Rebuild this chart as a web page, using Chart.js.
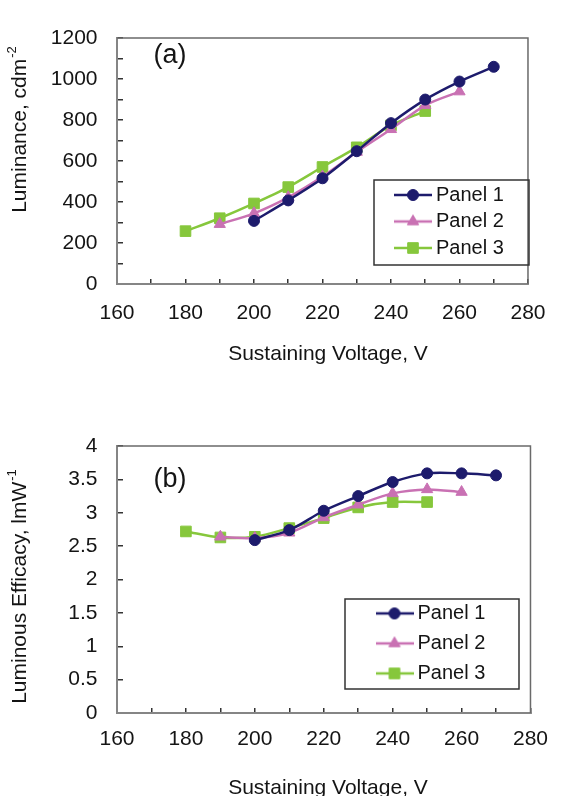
<!DOCTYPE html>
<html><head><meta charset="utf-8">
<script src="https://cdn.jsdelivr.net/npm/chart.js@4.4.1/dist/chart.umd.min.js"></script>
<style>
html,body{margin:0;padding:0;background:#fff;}
#wrapA{position:absolute;left:0;top:0;width:567px;height:380px;}
#wrapB{position:absolute;left:0;top:380px;width:567px;height:416px;}
</style></head><body>
<div id="wrapA"><canvas id="chartA"></canvas></div>
<div id="wrapB"><canvas id="chartB"></canvas></div>
<script>
// ---- data ----
const seriesNames = ['Panel 1', 'Panel 2', 'Panel 3'];
const voltage1 = [200, 210, 220, 230, 240, 250, 260, 270];
const voltage2 = [190, 200, 210, 220, 230, 240, 250, 260];
const voltage3 = [180, 190, 200, 210, 220, 230, 240, 250];
const luminance1 = [308, 408, 516, 648, 785, 900, 988, 1060];
const luminance2 = [292, 345, 423, 524, 644, 755, 872, 939];
const luminance3 = [258, 321, 393, 473, 571, 667, 774, 844];
const efficacy1 = [2.59, 2.74, 3.03, 3.25, 3.46, 3.59, 3.59, 3.56];
const efficacy2 = [2.64, 2.62, 2.70, 2.93, 3.12, 3.29, 3.35, 3.31];
const efficacy3 = [2.72, 2.63, 2.64, 2.77, 2.92, 3.08, 3.16, 3.16];
const xTickLabels = [160, 180, 200, 220, 240, 260, 280];
const yTickLabelsA = [0, 200, 400, 600, 800, 1000, 1200];
const yTickLabelsB = [0, 0.5, 1, 1.5, 2, 2.5, 3, 3.5, 4];

// ---- styles ----
const FONT = '"Liberation Sans", Arial, sans-serif';
const colors = ['#1d1b6c', '#c971b3', '#86c73c'];
const pointStyles = ['circle', 'triangle', 'rect'];
const pointRadii = [5.5, 6.5, 7.5];

function drawMarker(g, style, r, x, y) {
  g.beginPath();
  if (style === 'circle') {
    g.arc(x, y, r, 0, Math.PI * 2);
  } else if (style === 'triangle') {
    let a = 0;
    g.moveTo(x + Math.sin(a) * r, y - Math.cos(a) * r);
    a += 2 * Math.PI / 3; g.lineTo(x + Math.sin(a) * r, y - Math.cos(a) * r);
    a += 2 * Math.PI / 3; g.lineTo(x + Math.sin(a) * r, y - Math.cos(a) * r);
    g.closePath();
  } else {
    const s = r * Math.SQRT1_2;
    g.rect(x - s, y - s, 2 * s, 2 * s);
  }
  g.fill(); g.stroke();
}
function makeIcon(i) {
  const c = document.createElement('canvas');
  c.width = 38; c.height = 18;
  const g = c.getContext('2d');
  g.strokeStyle = colors[i]; g.fillStyle = colors[i];
  g.lineWidth = 2.5;
  g.beginPath(); g.moveTo(0, 9); g.lineTo(38, 9); g.stroke();
  g.lineWidth = 1;
  drawMarker(g, pointStyles[i], pointRadii[i], 19, 9);
  return c;
}
const icons = [0, 1, 2].map(makeIcon);

function buildDatasets(xs, ys) {
  return ys.map((vals, i) => ({
    label: seriesNames[i],
    data: vals.map((v, k) => ({x: xs[i][k], y: v})),
    borderColor: colors[i],
    backgroundColor: colors[i],
    borderWidth: 2.5,
    pointStyle: pointStyles[i],
    pointRadius: pointRadii[i],
    pointBorderWidth: 1,
    pointBackgroundColor: colors[i],
    pointBorderColor: colors[i],
    tension: 0.3,
    fill: false
  }));
}

const decor = {
  id: 'decor',
  afterLayout(chart, args, o) {
    const lg = chart.legend;
    if (!lg) return;
    lg.left = o.legendLeft; lg.top = o.legendTop;
    lg.right = lg.left + 220; lg.bottom = lg.top + 130;
  },
  afterDraw(chart, args, o) {
    const ctx = chart.ctx, a = chart.chartArea;
    ctx.save();
    ctx.strokeStyle = '#6a6a6a'; ctx.lineWidth = 1.5;
    ctx.beginPath();
    ctx.moveTo(a.left, a.top); ctx.lineTo(a.right, a.top); ctx.lineTo(a.right, a.bottom);
    ctx.stroke();
    ctx.strokeStyle = '#333'; ctx.lineWidth = 1.5;
    ctx.strokeRect(o.box[0], o.box[1], o.box[2], o.box[3]);
    ctx.fillStyle = '#141414';
    ctx.textAlign = 'center'; ctx.textBaseline = 'middle';
    ctx.font = '27px ' + FONT;
    ctx.fillText(o.tag, o.tagPos[0], o.tagPos[1]);
    ctx.font = '21px ' + FONT;
    ctx.fillText(o.xTitle, o.xTitlePos[0], o.xTitlePos[1]);
    ctx.translate(o.yTitlePos[0], o.yTitlePos[1]);
    ctx.rotate(-Math.PI / 2);
    const mainW = ctx.measureText(o.yTitle).width;
    ctx.font = '13px ' + FONT;
    const supW = ctx.measureText(o.yTitleSup).width;
    const start = -(mainW + supW) / 2;
    ctx.textAlign = 'left';
    ctx.font = '21px ' + FONT;
    ctx.fillText(o.yTitle, start, 0);
    ctx.font = '13px ' + FONT;
    ctx.fillText(o.yTitleSup, start + mainW + 1, -8);
    ctx.restore();
  }
};

function makeChart(id, cfg) {
  return new Chart(document.getElementById(id), {
    type: 'line',
    data: {datasets: cfg.datasets},
    plugins: [decor],
    options: {
      responsive: true,
      maintainAspectRatio: false,
      animation: false,
      events: [],
      layout: {padding: cfg.padding},
      scales: {
        x: {
          type: 'linear', min: 160, max: 280,
          afterFit: s => { s.height = cfg.xHeight; },
          border: {display: true, color: '#858585', width: 2},
          grid: {drawOnChartArea: false, drawTicks: true, tickLength: -5, color: '#333', lineWidth: 1.5},
          ticks: {
            stepSize: 10, autoSkip: false, maxRotation: 0, padding: cfg.xPad,
            color: '#141414', font: {family: FONT, size: 21},
            callback: v => xTickLabels.includes(v) ? String(v) : ''
          }
        },
        y: {
          type: 'linear', min: cfg.yMin, max: cfg.yMax,
          afterFit: s => { s.width = 117; },
          border: {display: true, color: '#858585', width: 2},
          grid: {drawOnChartArea: false, drawTicks: true, tickLength: -6, color: '#333', lineWidth: 1.5},
          ticks: {
            stepSize: cfg.yStep, autoSkip: false, padding: 25.5,
            color: '#141414', font: {family: FONT, size: 21},
            callback: v => cfg.yLabels.some(t => Math.abs(t - v) < 1e-9) ? String(v) : ''
          }
        }
      },
      plugins: {
        tooltip: {enabled: false},
        legend: {
          position: 'chartArea',
          align: 'start',
          labels: {
            usePointStyle: true,
            pointStyleWidth: 26,
            boxHeight: 18,
            padding: cfg.legendPad,
            color: '#141414',
            font: {family: FONT, size: 20},
            generateLabels: chart => Chart.defaults.plugins.legend.labels.generateLabels(chart)
              .map((it, i) => Object.assign(it, {pointStyle: icons[i], fontColor: '#141414'}))
          }
        },
        decor: cfg.decor
      }
    }
  });
}

makeChart('chartA', {
  datasets: buildDatasets([voltage1, voltage2, voltage3], [luminance1, luminance2, luminance3]),
  padding: {top: 19, right: 20, bottom: 0, left: 0},
  xHeight: 96, xPad: 21.5,
  yMin: 0, yMax: 1200, yStep: 100, yLabels: yTickLabelsA,
  legendPad: 6.5,
  decor: {
    legendLeft: 393.5, legendTop: 178.5,
    box: [374, 180, 155, 85],
    tag: '(a)', tagPos: [170, 56],
    xTitle: 'Sustaining Voltage, V', xTitlePos: [328, 354],
    yTitle: 'Luminance, cdm', yTitleSup: '-2', yTitlePos: [20, 130]
  }
});

makeChart('chartB', {
  datasets: buildDatasets([voltage1, voltage2, voltage3], [efficacy1, efficacy2, efficacy3]),
  padding: {top: 66, right: 18, bottom: 0, left: 0},
  xHeight: 83, xPad: 19,
  yMin: 0, yMax: 4, yStep: 0.5, yLabels: yTickLabelsB,
  legendPad: 10,
  decor: {
    legendLeft: 371.5, legendTop: 213.4,
    box: [345, 219, 174, 90],
    tag: '(b)', tagPos: [170, 100],
    xTitle: 'Sustaining Voltage, V', xTitlePos: [328, 408],
    yTitle: 'Luminous Efficacy, lmW', yTitleSup: '-1', yTitlePos: [20, 207]
  }
});
</script>
</body></html>
